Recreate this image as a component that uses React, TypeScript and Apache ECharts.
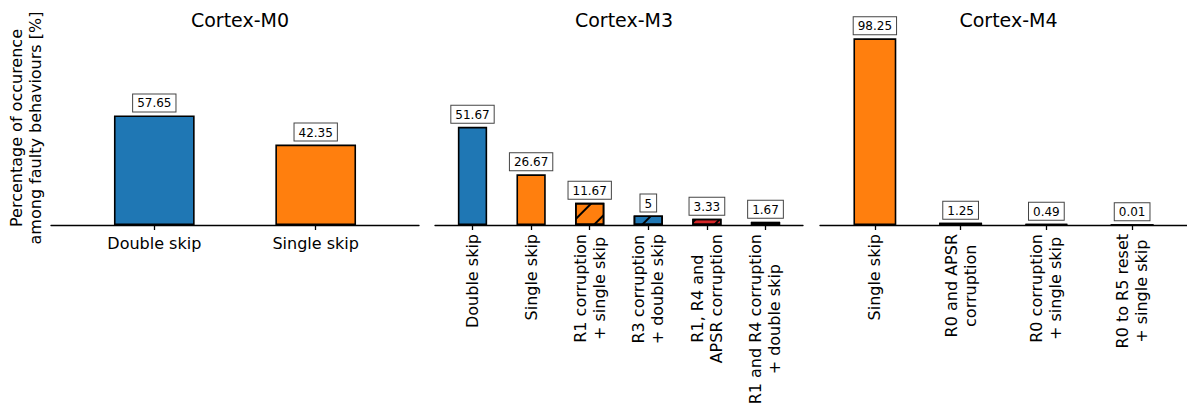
import React, { useEffect, useRef } from "react";
import * as echarts from "echarts";

// ---- data ----
const m0Categories = ["Double skip", "Single skip"];
const m0Values = [57.65, 42.35];
const m0Kinds = ["double", "single"];

const m3Categories = [
  "Double skip",
  "Single skip",
  "R1 corruption\n+ single skip",
  "R3 corruption\n+ double skip",
  "R1, R4 and\nAPSR corruption",
  "R1 and R4 corruption\n+ double skip",
];
const m3Values = [51.67, 26.67, 11.67, 5, 3.33, 1.67];
const m3Kinds = ["double", "single", "single-corr", "double-corr", "corr", "double-corr"];

const m4Categories = [
  "Single skip",
  "R0 and APSR\ncorruption",
  "R0 corruption\n+ single skip",
  "R0 to R5 reset\n+ single skip",
];
const m4Values = [98.25, 1.25, 0.49, 0.01];
const m4Kinds = ["single", "corr", "single-corr", "single-corr"];

const panelTitles = ["Cortex-M0", "Cortex-M3", "Cortex-M4"];
const yAxisLabel = "Percentage of occurence\namong faulty behaviours [%]";

// ---- styles ----
const FONT = "DejaVu Sans";
const BLUE = "#1f77b4";
const ORANGE = "#ff7f0e";
const RED = "#d62728";

const hatch = {
  symbol: "rect",
  symbolSize: 1,
  color: "#000",
  dashArrayX: [1, 0],
  dashArrayY: [1.5, 15],
  rotation: -Math.PI / 4,
};

function kindStyle(kind: string) {
  const base: any = { borderColor: "#000", borderWidth: 1.6 };
  if (kind.startsWith("double")) base.color = BLUE;
  else if (kind.startsWith("single")) base.color = ORANGE;
  else base.color = RED;
  if (kind.includes("corr")) base.decal = hatch;
  return base;
}

const YMAX = 103.16;
const GRID_TOP = 29;
const GRID_H = 196;
const panels = [
  { left: 51, width: 368, cats: m0Categories, vals: m0Values, kinds: m0Kinds, rotate: 0 },
  { left: 435, width: 368, cats: m3Categories, vals: m3Values, kinds: m3Kinds, rotate: 90 },
  { left: 820, width: 367, cats: m4Categories, vals: m4Values, kinds: m4Kinds, rotate: 90 },
];

export default function App() {
  const ref = useRef<HTMLDivElement>(null);
  useEffect(() => {
    if (!ref.current) return;
    const chart = echarts.init(ref.current, undefined, { renderer: "svg" });
    const grids: any[] = [];
    const xAxes: any[] = [];
    const yAxes: any[] = [];
    const series: any[] = [];
    const titles: any[] = [];
    panels.forEach((p, i) => {
      const n = p.cats.length;
      const min = -0.64;
      const max = n - 1 + 0.64;
      const pxPerUnit = p.width / (max - min);
      grids.push({ left: p.left, width: p.width, top: GRID_TOP, height: GRID_H, containLabel: false });
      const idx = p.cats.map((_, k) => k);
      xAxes.push({
        type: "value",
        gridIndex: i,
        min,
        max,
        splitLine: { show: false },
        axisLine: { show: true, onZero: false, lineStyle: { color: "#000", width: 1.3 } },
        axisTick: { show: true, length: 5, customValues: idx, lineStyle: { color: "#000", width: 1.3 } },
        axisLabel: {
          show: true,
          customValues: idx,
          rotate: p.rotate,
          margin: 9,
          color: "#000",
          fontFamily: FONT,
          fontSize: 16,
          formatter: (v: number) =>
            (p.cats[Math.round(v)] || "")
              .split("\n")
              .map((l) => `{c|${l}}`)
              .join("\n"),
          rich: { c: { align: "center", fontFamily: FONT, fontSize: 16, lineHeight: 19, color: "#000" } },
        },
      });
      yAxes.push({ type: "value", gridIndex: i, min: 0, max: YMAX, show: false });
      series.push({
        type: "bar",
        xAxisIndex: i,
        yAxisIndex: i,
        barWidth: pxPerUnit * 0.5,
        data: p.vals.map((v, k) => ({ value: [k, v], itemStyle: kindStyle(p.kinds[k]) })),
        label: {
          show: true,
          position: "top",
          distance: 4,
          formatter: (d: any) => String(d.value[1]),
          fontFamily: FONT,
          fontSize: 12,
          color: "#000",
          backgroundColor: "#fff",
          borderColor: "#444",
          borderWidth: 1,
          padding: [3, 4, 2, 4],
        },
      });
      titles.push({
        text: panelTitles[i],
        left: p.left + p.width / 2,
        textAlign: "center",
        top: 5,
        textStyle: { fontFamily: FONT, fontSize: 19, fontWeight: "normal", color: "#000" },
      });
    });
    chart.setOption({
      animation: false,
      backgroundColor: "#fff",
      title: titles,
      grid: grids,
      xAxis: xAxes,
      yAxis: yAxes,
      series,
      graphic: [
        {
          type: "text",
          x: 26,
          y: 128,
          rotation: Math.PI / 2,
          style: {
            text: yAxisLabel,
            fontFamily: FONT,
            fontSize: 16,
            lineHeight: 19,
            fill: "#000",
            textAlign: "center",
            textVerticalAlign: "middle",
          },
        },
      ],
    });
    return () => chart.dispose();
  }, []);
  return (
    <div
      ref={ref}
      style={{ position: "absolute", left: 0, top: 0, width: 1187, height: 414, background: "#fff" }}
    />
  );
}
